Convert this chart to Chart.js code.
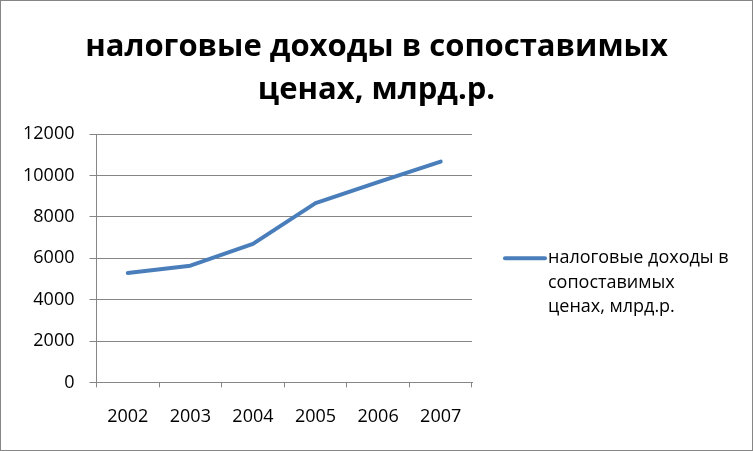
<!DOCTYPE html>
<html>
<head>
<meta charset="utf-8">
<script src="https://cdn.jsdelivr.net/npm/chart.js@4.4.0/dist/chart.umd.min.js"></script>
<style>
  html, body { margin: 0; padding: 0; background: #fff; }
  #wrap { width: 751px; height: 449px; border: 1px solid #868686; }
</style>
</head>
<body>
<div id="wrap"><canvas id="myChart" width="751" height="449"></canvas></div>
<script>
let years = ["2002", "2003", "2004", "2005", "2006", "2007"];
let incomes = [5290, 5640, 6690, 8660, 9680, 10670];
let seriesName = "налоговые доходы в сопоставимых ценах, млрд.р.";
let titleLines = ["налоговые доходы в сопоставимых", "ценах, млрд.р."];
let legendLines = ["налоговые доходы в", "сопоставимых", "ценах, млрд.р."];

let gray = "#868686";
let lineColor = "#4a7ebb";
let font = "'Open Sans', 'DejaVu Sans', sans-serif";

// title and legend are drawn by hand: the title spans the whole canvas
// and the legend label wraps onto three lines like in Excel
let sideText = {
	id: "sideText",
	afterDraw: function(chart) {
		let ctx = chart.ctx;
		let area = chart.chartArea;
		ctx.save();
		ctx.fillStyle = "#000";
		ctx.textBaseline = "middle";
		ctx.textAlign = "center";
		ctx.font = "bold 31px " + font;
		titleLines.forEach(function(line, i) {
			ctx.fillText(line, chart.width / 2, 46 + i * 43);
		});

		let x0 = area.right + 31;
		let y0 = (area.top + area.bottom) / 2;
		ctx.strokeStyle = lineColor;
		ctx.lineWidth = 4;
		ctx.lineCap = "round";
		ctx.beginPath();
		ctx.moveTo(x0 + 2, y0);
		ctx.lineTo(x0 + 42, y0);
		ctx.stroke();
		ctx.font = "18px " + font;
		ctx.textAlign = "left";
		legendLines.forEach(function(line, i) {
			ctx.fillText(line, x0 + 45, y0 + i * 24.5);
		});
		ctx.restore();
	}
};

let config = {
	type: "line",
	data: {
		labels: years,
		datasets: [{
			label: seriesName,
			data: incomes,
			borderColor: lineColor,
			backgroundColor: lineColor,
			borderWidth: 4,
			pointRadius: 0,
			tension: 0,
			borderCapStyle: "round",
			borderJoinStyle: "round"
		}]
	},
	options: {
		responsive: false,
		animation: false,
		layout: { padding: { left: 7, right: 280, top: 133, bottom: 3 } },
		plugins: {
			title: { display: false },
			legend: { display: false },
			tooltip: { enabled: false }
		},
		scales: {
			x: {
				offset: true,
				grid: { offset: true, drawOnChartArea: false, color: gray, tickLength: 5 },
				border: { color: gray },
				ticks: { color: "#000", font: { family: font, size: 18 }, padding: 19, maxRotation: 0 }
			},
			y: {
				min: 0,
				max: 12000,
				ticks: {
					stepSize: 2000,
					color: "#000",
					font: { family: font, size: 18 },
					padding: 15,
					callback: function(v) { return String(v); }
				},
				grid: { color: gray, tickLength: 7 },
				border: { color: gray }
			}
		}
	},
	plugins: [sideText]
};

let chart = new Chart("myChart", config);
</script>
</body>
</html>
